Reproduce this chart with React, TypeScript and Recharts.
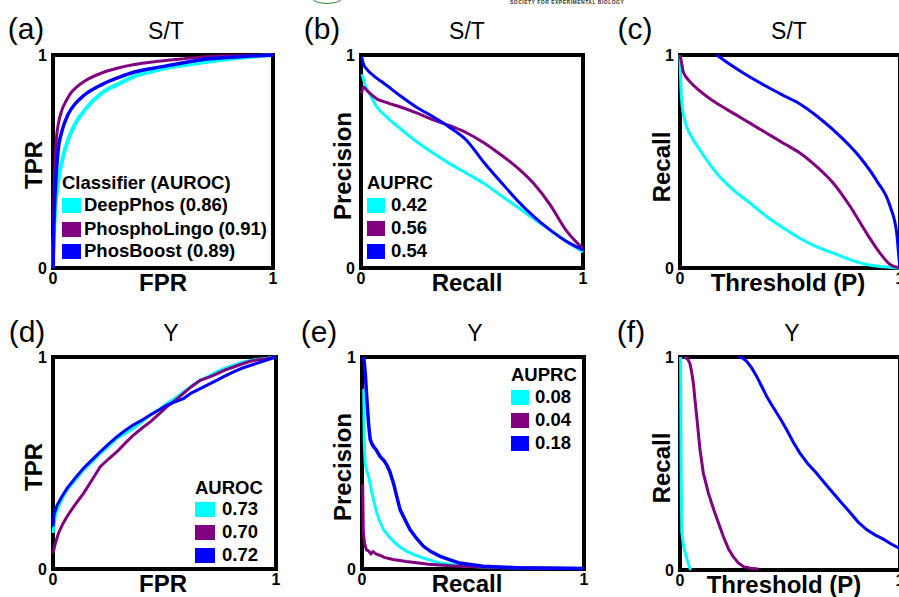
import React from "react";
import { LineChart, Line, XAxis, YAxis, ReferenceArea } from "recharts";

const FONT = '"Liberation Sans", Arial, Helvetica, sans-serif';
const CYAN = "#00FFFF";
const PURPLE = "#800080";
const BLUE = "#0000FF";

type Pt = [number, number];

// (a) ROC, S/T  [FPR, TPR]
const rocStDeep: Pt[] = [[0,0],[0.004,0.15],[0.01,0.27],[0.02,0.38],[0.03,0.445],[0.045,0.52],[0.068,0.6],[0.1,0.675],[0.143,0.74],[0.22,0.82],[0.3,0.865],[0.37,0.9],[0.45,0.922],[0.52,0.94],[0.6,0.953],[0.67,0.964],[0.75,0.975],[0.82,0.984],[0.9,0.992],[1,1]];
const rocStLingo: Pt[] = [[0,0],[0.003,0.25],[0.007,0.42],[0.015,0.6],[0.025,0.68],[0.04,0.74],[0.06,0.785],[0.08,0.82],[0.11,0.852],[0.14,0.875],[0.22,0.915],[0.3,0.94],[0.37,0.955],[0.45,0.967],[0.52,0.975],[0.6,0.983],[0.67,0.99],[0.82,0.997],[1,1]];
const rocStBoost: Pt[] = [[0,0],[0.004,0.2],[0.01,0.36],[0.023,0.55],[0.04,0.64],[0.068,0.72],[0.1,0.77],[0.14,0.81],[0.22,0.86],[0.3,0.895],[0.37,0.92],[0.45,0.937],[0.52,0.95],[0.6,0.965],[0.67,0.977],[0.75,0.985],[0.82,0.99],[0.9,0.995],[1,1]];

// (b) PR, S/T  [Recall, Precision]
const prStDeep: Pt[] = [[0.005,0.91],[0.02,0.855],[0.04,0.815],[0.07,0.758],[0.12,0.705],[0.175,0.656],[0.25,0.594],[0.325,0.54],[0.4,0.49],[0.475,0.445],[0.55,0.4],[0.625,0.344],[0.7,0.29],[0.775,0.234],[0.85,0.18],[0.925,0.125],[1,0.075]];
const prStLingo: Pt[] = [[0.003,0.82],[0.01,0.85],[0.03,0.83],[0.07,0.795],[0.12,0.775],[0.175,0.757],[0.25,0.728],[0.325,0.695],[0.4,0.668],[0.475,0.635],[0.55,0.59],[0.625,0.535],[0.7,0.475],[0.775,0.4],[0.85,0.3],[0.925,0.175],[1,0.09]];
const prStBoost: Pt[] = [[0.003,0.99],[0.01,0.96],[0.025,0.935],[0.06,0.9],[0.1,0.87],[0.175,0.81],[0.25,0.755],[0.325,0.71],[0.4,0.66],[0.475,0.6],[0.55,0.5],[0.625,0.41],[0.7,0.322],[0.775,0.245],[0.85,0.18],[0.925,0.125],[1,0.085]];

// (c) Recall vs threshold, S/T
const thrStDeep: Pt[] = [[0,1],[0.002,0.92],[0.005,0.83],[0.01,0.76],[0.02,0.7],[0.03,0.664],[0.05,0.62],[0.09,0.555],[0.13,0.495],[0.167,0.445],[0.242,0.367],[0.318,0.305],[0.394,0.242],[0.47,0.188],[0.545,0.14],[0.62,0.1],[0.697,0.07],[0.773,0.039],[0.848,0.016],[0.924,0.006],[1,0]];
const thrStLingo: Pt[] = [[0,1],[0.008,0.96],[0.015,0.92],[0.045,0.875],[0.09,0.832],[0.167,0.773],[0.242,0.727],[0.318,0.68],[0.394,0.633],[0.47,0.586],[0.545,0.54],[0.62,0.477],[0.697,0.398],[0.773,0.29],[0.848,0.164],[0.909,0.07],[0.955,0.016],[1,0]];
const thrStBoost: Pt[] = [[0.167,1],[0.2,0.975],[0.273,0.925],[0.394,0.852],[0.47,0.81],[0.545,0.77],[0.62,0.715],[0.697,0.648],[0.818,0.52],[0.894,0.41],[0.955,0.29],[0.985,0.164],[0.995,0.05],[1,0]];

// (d) ROC, Y
const rocYDeep: Pt[] = [[0,0.17],[0.01,0.25],[0.025,0.295],[0.045,0.34],[0.063,0.373],[0.1,0.42],[0.137,0.467],[0.175,0.505],[0.212,0.545],[0.25,0.58],[0.287,0.616],[0.325,0.64],[0.361,0.663],[0.4,0.695],[0.436,0.726],[0.475,0.752],[0.51,0.78],[0.55,0.808],[0.585,0.835],[0.62,0.862],[0.66,0.89],[0.7,0.91],[0.734,0.93],[0.77,0.948],[0.81,0.962],[0.85,0.975],[0.884,0.984],[0.92,0.99],[0.958,0.994],[1,1]];
const rocYLingo: Pt[] = [[0,0.075],[0.01,0.12],[0.025,0.17],[0.045,0.215],[0.063,0.248],[0.1,0.305],[0.137,0.357],[0.175,0.42],[0.212,0.483],[0.25,0.52],[0.287,0.553],[0.325,0.595],[0.361,0.632],[0.4,0.665],[0.436,0.694],[0.475,0.73],[0.51,0.765],[0.55,0.797],[0.585,0.828],[0.62,0.86],[0.66,0.89],[0.7,0.905],[0.734,0.92],[0.77,0.938],[0.81,0.953],[0.85,0.968],[0.884,0.98],[0.92,0.987],[0.958,0.992],[1,1]];
const rocYBoost: Pt[] = [[0,0.2],[0.005,0.26],[0.018,0.3],[0.04,0.342],[0.063,0.38],[0.1,0.43],[0.137,0.475],[0.175,0.515],[0.212,0.553],[0.25,0.59],[0.287,0.624],[0.325,0.655],[0.361,0.68],[0.4,0.703],[0.436,0.726],[0.475,0.75],[0.51,0.773],[0.55,0.79],[0.585,0.804],[0.62,0.83],[0.66,0.851],[0.7,0.872],[0.734,0.89],[0.77,0.91],[0.81,0.93],[0.85,0.948],[0.884,0.96],[0.92,0.972],[0.958,0.985],[1,1]];

// (e) PR, Y
const prYDeep: Pt[] = [[0.008,0.85],[0.01,0.6],[0.014,0.5],[0.02,0.47],[0.03,0.436],[0.045,0.357],[0.067,0.263],[0.08,0.225],[0.097,0.185],[0.12,0.155],[0.142,0.13],[0.17,0.105],[0.202,0.083],[0.24,0.065],[0.277,0.052],[0.352,0.028],[0.47,0.0125],[0.6,0.007],[0.8,0.004],[1,0.002]];
const prYLingo: Pt[] = [[0.003,0.4],[0.006,0.17],[0.012,0.12],[0.02,0.09],[0.03,0.085],[0.04,0.072],[0.05,0.082],[0.065,0.07],[0.08,0.065],[0.1,0.055],[0.14,0.045],[0.2,0.035],[0.3,0.022],[0.4,0.015],[0.55,0.009],[0.75,0.005],[1,0.002]];
const prYBoost: Pt[] = [[0.008,1],[0.015,0.92],[0.022,0.8],[0.03,0.68],[0.037,0.61],[0.045,0.59],[0.052,0.577],[0.065,0.56],[0.082,0.53],[0.1,0.51],[0.112,0.49],[0.125,0.46],[0.142,0.404],[0.157,0.34],[0.172,0.279],[0.195,0.23],[0.217,0.185],[0.245,0.145],[0.277,0.107],[0.31,0.082],[0.352,0.06],[0.4,0.042],[0.44,0.028],[0.546,0.0125],[0.696,0.006],[1,0.002]];

// (f) Recall vs threshold, Y
const thrYDeep: Pt[] = [[0.003,1],[0.005,0.5],[0.008,0.18],[0.015,0.12],[0.025,0.075],[0.035,0.04],[0.048,0]];
const thrYLingo: Pt[] = [[0.02,1],[0.035,0.99],[0.045,0.97],[0.053,0.93],[0.061,0.875],[0.068,0.8],[0.076,0.72],[0.091,0.564],[0.106,0.455],[0.129,0.361],[0.159,0.266],[0.197,0.157],[0.22,0.1],[0.242,0.063],[0.265,0.033],[0.288,0.016],[0.32,0.008],[0.356,0.005]];
const thrYBoost: Pt[] = [[0.265,1],[0.285,0.995],[0.303,0.98],[0.325,0.95],[0.348,0.91],[0.37,0.865],[0.394,0.815],[0.417,0.775],[0.44,0.737],[0.462,0.7],[0.485,0.658],[0.515,0.6],[0.545,0.549],[0.58,0.5],[0.62,0.455],[0.66,0.405],[0.697,0.36],[0.735,0.315],[0.773,0.27],[0.81,0.225],[0.848,0.19],[0.886,0.165],[0.924,0.145],[0.96,0.122],[1,0.1]];

const classifiers = ["DeepPhos", "PhosphoLingo", "PhosBoost"];
const colors = [CYAN, PURPLE, BLUE];
const aurocSt = ["0.86", "0.91", "0.89"];
const auprcSt = ["0.42", "0.56", "0.54"];
const aurocY = ["0.73", "0.70", "0.72"];
const auprcY = ["0.08", "0.04", "0.18"];
const axisTicks = [0, 1];

const toRows = (pts: Pt[]) => pts.map(([x, y]) => ({ x, y }));

function Txt({ x, y, size, bold, rotate, left, children }: any) {
  return (
    <div
      style={{
        position: "absolute",
        left: x,
        top: y,
        fontFamily: FONT,
        fontSize: size,
        fontWeight: bold ? 700 : 400,
        lineHeight: 1,
        whiteSpace: "nowrap",
        color: "#000",
        transform: rotate
          ? "translate(-50%,-50%) rotate(-90deg)"
          : left
          ? "translate(0,-50%)"
          : "translate(-50%,-50%)",
      }}
    >
      {children}
    </div>
  );
}

function Legend({ x, titleY, rows, labelX, title, labels, sw }: any) {
  return (
    <>
      <Txt x={x} y={titleY} size={18.5} bold left>{title}</Txt>
      {labels.map((l: string, i: number) => (
        <React.Fragment key={l + i}>
          <div style={{ position: "absolute", left: x, top: rows[i] - 7.5, width: sw, height: 15, background: colors[i] }} />
          <Txt x={labelX} y={rows[i]} size={18.5} bold left>{l}</Txt>
        </React.Fragment>
      ))}
    </>
  );
}

const tickStyle = { fill: "#000", fontSize: 16, fontWeight: 700, fontFamily: FONT };

function Panel({ px, py, pw, ph, series, curve }: any) {
  return (
    <div style={{ position: "absolute", left: px - 50, top: py - 10 }}>
      <LineChart width={pw + 60} height={ph + 50} margin={{ top: 10, right: 10, bottom: 0, left: 0 }}>
        <XAxis type="number" dataKey="x" domain={[0, 1]} ticks={axisTicks} height={40} tickSize={0} tickMargin={5} axisLine={false} tick={tickStyle} allowDuplicatedCategory={false} />
        <YAxis type="number" dataKey="y" domain={[0, 1]} ticks={axisTicks} width={50} tickSize={0} tickMargin={6} axisLine={false} tick={tickStyle} />
        {series.map((s: any) => (
          <Line
            key={s.name}
            data={toRows(s.points)}
            dataKey="y"
            name={s.name}
            stroke={s.color}
            strokeWidth={s.width || 3}
            type={curve}
            dot={false}
            activeDot={false}
            isAnimationActive={false}
          />
        ))}
        <ReferenceArea x1={0} x2={1} y1={0} y2={1} fill="none" fillOpacity={0} stroke="#000" strokeWidth={4} />
      </LineChart>
    </div>
  );
}

const mk = (pts: Pt[][], widths: number[] = [3, 3, 3]) =>
  pts.map((p, i) => ({ name: classifiers[i], color: colors[i], points: p, width: widths[i] }));

export default function App() {
  return (
    <div style={{ position: "absolute", left: 0, top: 0, width: 899, height: 597, overflow: "hidden", background: "#fff" }}>
      {/* cropped journal header */}
      <div style={{ position: "absolute", left: 312, top: -8, width: 28, height: 10, borderRadius: "50%", border: "1px solid #3a8a3a" }} />
      <div style={{ position: "absolute", left: 510, top: -1, fontFamily: FONT, fontSize: 5, fontWeight: 700, color: "#333", letterSpacing: 0.5, whiteSpace: "nowrap" }}>
        SOCIETY FOR EXPERIMENTAL BIOLOGY
      </div>

      {/* (a) */}
      <Panel px={53} py={55} pw={220} ph={213} curve="monotone" series={mk([rocStDeep, rocStLingo, rocStBoost], [4, 3, 3.5])} />
      <Txt x={26} y={29} size={30}>(a)</Txt>
      <Txt x={166} y={31} size={23}>S/T</Txt>
      <Txt x={163} y={283} size={24} bold>FPR</Txt>
      <Txt x={34} y={165} size={24} bold rotate>TPR</Txt>
      <Legend x={62} titleY={183} rows={[205, 229, 251]} labelX={84} sw={19} title="Classifier (AUROC)" labels={classifiers.map((c, i) => `${c} (${aurocSt[i]})`)} />

      {/* (b) */}
      <Panel px={361} py={55} pw={222} ph={213} curve="monotone" series={mk([prStDeep, prStLingo, prStBoost])} />
      <Txt x={322} y={29} size={30}>(b)</Txt>
      <Txt x={467} y={31} size={23}>S/T</Txt>
      <Txt x={467} y={283} size={24} bold>Recall</Txt>
      <Txt x={343} y={166} size={24} bold rotate>Precision</Txt>
      <Legend x={367} titleY={183} rows={[205, 228, 251]} labelX={391} sw={18} title="AUPRC" labels={auprcSt} />

      {/* (c) */}
      <Panel px={680} py={55} pw={220} ph={213} curve="monotone" series={mk([thrStDeep, thrStLingo, thrStBoost])} />
      <Txt x={635} y={29} size={30}>(c)</Txt>
      <Txt x={789} y={31} size={23}>S/T</Txt>
      <Txt x={788} y={283} size={24} bold>Threshold (P)</Txt>
      <Txt x={662} y={167} size={24} bold rotate>Recall</Txt>

      {/* (d) */}
      <Panel px={53} py={357} pw={223} ph={212} curve="linear" series={mk([rocYDeep, rocYLingo, rocYBoost])} />
      <Txt x={27} y={332} size={30}>(d)</Txt>
      <Txt x={171} y={333} size={23}>Y</Txt>
      <Txt x={163} y={584} size={24} bold>FPR</Txt>
      <Txt x={34} y={467} size={24} bold rotate>TPR</Txt>
      <Legend x={195} titleY={488} rows={[509, 532, 555]} labelX={222} sw={20} title="AUROC" labels={aurocY} />

      {/* (e) */}
      <Panel px={362} py={357} pw={222} ph={212} curve="linear" series={mk([prYDeep, prYLingo, prYBoost], [3, 3, 3.5])} />
      <Txt x={319} y={332} size={30}>(e)</Txt>
      <Txt x={475} y={333} size={23}>Y</Txt>
      <Txt x={467} y={584} size={24} bold>Recall</Txt>
      <Txt x={343} y={467} size={24} bold rotate>Precision</Txt>
      <Legend x={511} titleY={375} rows={[397, 420, 443]} labelX={535} sw={18} title="AUPRC" labels={auprcY} />

      {/* (f) */}
      <Panel px={680} py={357} pw={220} ph={213} curve="linear" series={mk([thrYDeep, thrYLingo, thrYBoost])} />
      <Txt x={631} y={332} size={30}>(f)</Txt>
      <Txt x={792} y={333} size={23}>Y</Txt>
      <Txt x={784} y={585} size={24} bold>Threshold (P)</Txt>
      <Txt x={662} y={468} size={24} bold rotate>Recall</Txt>
    </div>
  );
}
